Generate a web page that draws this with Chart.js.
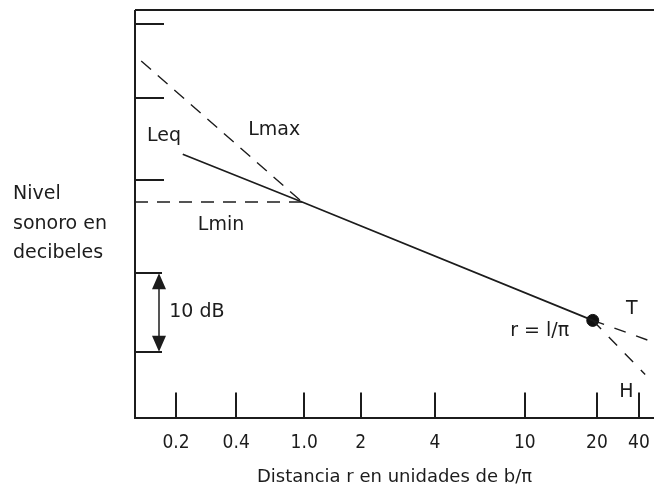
<!DOCTYPE html>
<html lang="es">
<head>
<meta charset="utf-8">
<title>Nivel sonoro en función de la distancia</title>
<script src="https://cdn.jsdelivr.net/npm/chart.js@4.4.1/dist/chart.umd.min.js"></script>
<style>
  html, body { margin: 0; padding: 0; background: #fff; }
  #grafico { display: block; }
</style>
</head>
<body>
<canvas id="grafico" width="654" height="493"></canvas>
<script>
// Eje x en unidades del esquema (0 = eje vertical, 100 = borde derecho); eje y en dB
const etiquetasDistancia = ['0.2', '0.4', '1.0', '2', '4', '10', '20', '40'];
const posicionDistancia = [7.9, 19.5, 32.6, 43.5, 57.8, 75.1, 89.0, 97.1];

// Leq: recta continua desde r ~ 0.25 hasta r = l/π
const leqX = [9.2, 32.2, 88.2];
const leqY = [33.6, 27.5, 12.4];
// Lmax y Lmin: asíntotas de campo cercano que se juntan en r = 1.0
const lmaxX = [1.2, 32.2];
const lmaxY = [45.5, 27.5];
const lminX = [0, 32.2];
const lminY = [27.5, 27.5];
// Ramas T y H a partir de r = l/π
const ramaTX = [88.2, 100];
const ramaTY = [12.4, 9.6];
const ramaHX = [88.2, 98.3];
const ramaHY = [12.4, 5.5];
const puntoLX = [88.2];
const puntoLY = [12.4];

// Marcas del eje de nivel y la escala de 10 dB
const marcasNivel = [50.2, 40.8, 30.3];
const escalaDB = [18.4, 8.4];

// Rótulos sobre el esquema: [texto, x, y]
const rotulos = [
  ['Leq', 2.3, 35.9],
  ['Lmax', 21.8, 36.7],
  ['Lmin', 12.1, 24.5],
  ['10 dB', 6.6, 13.5],
  ['r = l/π', 72.3, 11.0],
  ['T', 94.6, 13.9],
  ['H', 93.3, 3.3]
];
const tituloNivel = ['Nivel', 'sonoro en', 'decibeles'];

const FUENTE = "'DejaVu Sans', sans-serif";
const FUENTE_NUM = "'DejaVu Sans Condensed', 'DejaVu Sans', sans-serif";
const TINTA = '#1c1c1c';

function puntos(xs, ys) {
  return xs.map((x, i) => ({ x: x, y: ys[i] }));
}

function serie(xs, ys, dash, ancho) {
  return {
    data: puntos(xs, ys),
    borderColor: TINTA,
    borderWidth: ancho,
    borderDash: dash,
    pointRadius: 0,
    tension: 0,
    fill: false
  };
}

// Dibuja ejes, marcas interiores, flecha de 10 dB y rótulos
const decoracion = {
  id: 'decoracion',
  afterDatasetsDraw(chart) {
    const { ctx, chartArea, scales } = chart;
    const sx = scales.x, sy = scales.y;
    ctx.save();
    ctx.strokeStyle = TINTA;
    ctx.fillStyle = TINTA;
    ctx.lineWidth = 2;

    // eje vertical y línea superior
    ctx.beginPath();
    ctx.moveTo(chartArea.left, chartArea.top);
    ctx.lineTo(chartArea.left, chartArea.bottom);
    ctx.moveTo(chartArea.left, chartArea.top);
    ctx.lineTo(chartArea.right, chartArea.top);
    ctx.stroke();

    // marcas de distancia hacia dentro
    ctx.beginPath();
    sx.ticks.forEach(t => {
      const px = Math.round(sx.getPixelForValue(t.value));
      ctx.moveTo(px, chartArea.bottom);
      ctx.lineTo(px, chartArea.bottom - 25);
    });
    // marcas de nivel
    marcasNivel.forEach(v => {
      const py = Math.round(sy.getPixelForValue(v));
      ctx.moveTo(chartArea.left, py);
      ctx.lineTo(chartArea.left + 29, py);
    });
    // escala de 10 dB
    escalaDB.forEach(v => {
      const py = Math.round(sy.getPixelForValue(v));
      ctx.moveTo(chartArea.left, py);
      ctx.lineTo(chartArea.left + 27, py);
    });
    ctx.stroke();

    const ax = chartArea.left + 24;
    const yArriba = sy.getPixelForValue(escalaDB[0]);
    const yAbajo = sy.getPixelForValue(escalaDB[1]);
    ctx.lineWidth = 1.5;
    ctx.beginPath();
    ctx.moveTo(ax, yArriba + 10);
    ctx.lineTo(ax, yAbajo - 10);
    ctx.stroke();
    ctx.beginPath();
    ctx.moveTo(ax, yArriba);
    ctx.lineTo(ax - 7, yArriba + 16);
    ctx.lineTo(ax + 7, yArriba + 16);
    ctx.closePath();
    ctx.moveTo(ax, yAbajo);
    ctx.lineTo(ax - 7, yAbajo - 16);
    ctx.lineTo(ax + 7, yAbajo - 16);
    ctx.closePath();
    ctx.fill();

    // rótulos
    ctx.font = '19px ' + FUENTE;
    ctx.textAlign = 'left';
    ctx.textBaseline = 'middle';
    rotulos.forEach(([texto, x, y]) => {
      ctx.fillText(texto, sx.getPixelForValue(x), sy.getPixelForValue(y));
    });

    // título del eje de nivel, horizontal y en tres líneas
    ctx.textBaseline = 'alphabetic';
    tituloNivel.forEach((linea, i) => {
      ctx.fillText(linea, 13, 199 + i * 29.5);
    });
    ctx.restore();
  }
};

new Chart(document.getElementById('grafico'), {
  type: 'line',
  data: {
    datasets: [
      serie(leqX, leqY, [], 1.7),
      serie(lmaxX, lmaxY, [13, 9], 1.4),
      serie(lminX, lminY, [13, 9], 1.4),
      serie(ramaTX, ramaTY, [12, 11], 1.4),
      serie(ramaHX, ramaHY, [12, 11], 1.4),
      {
        type: 'scatter',
        data: puntos(puntoLX, puntoLY),
        pointRadius: 6,
        pointBackgroundColor: '#111',
        pointBorderColor: '#111'
      }
    ]
  },
  options: {
    responsive: false,
    devicePixelRatio: 1,
    animation: false,
    layout: { autoPadding: false, padding: { left: 135, right: 0, top: 10, bottom: 0 } },
    plugins: {
      legend: { display: false },
      tooltip: { enabled: false }
    },
    scales: {
      x: {
        type: 'linear',
        min: 0,
        max: 100,
        afterBuildTicks: (scale) => {
          scale.ticks = posicionDistancia.map(v => ({ value: v }));
        },
        // el eje llega hasta el borde derecho aunque la última etiqueta quede justa
        afterFit: (scale) => {
          scale.paddingLeft = 0;
          scale.paddingRight = 0;
        },
        ticks: {
          autoSkip: false,
          maxRotation: 0,
          padding: 14,
          color: TINTA,
          font: { family: FUENTE_NUM, size: 19 },
          callback: (valor, i) => etiquetasDistancia[i]
        },
        grid: { display: false, drawTicks: false },
        border: { display: true, color: TINTA, width: 2 },
        title: {
          display: true,
          text: 'Distancia r en unidades de b/π',
          color: TINTA,
          font: { family: FUENTE, size: 18 },
          padding: { top: -2, bottom: 5 }
        }
      },
      y: {
        display: false,
        min: 0,
        max: 52
      }
    }
  },
  plugins: [decoracion]
});
</script>
</body>
</html>
